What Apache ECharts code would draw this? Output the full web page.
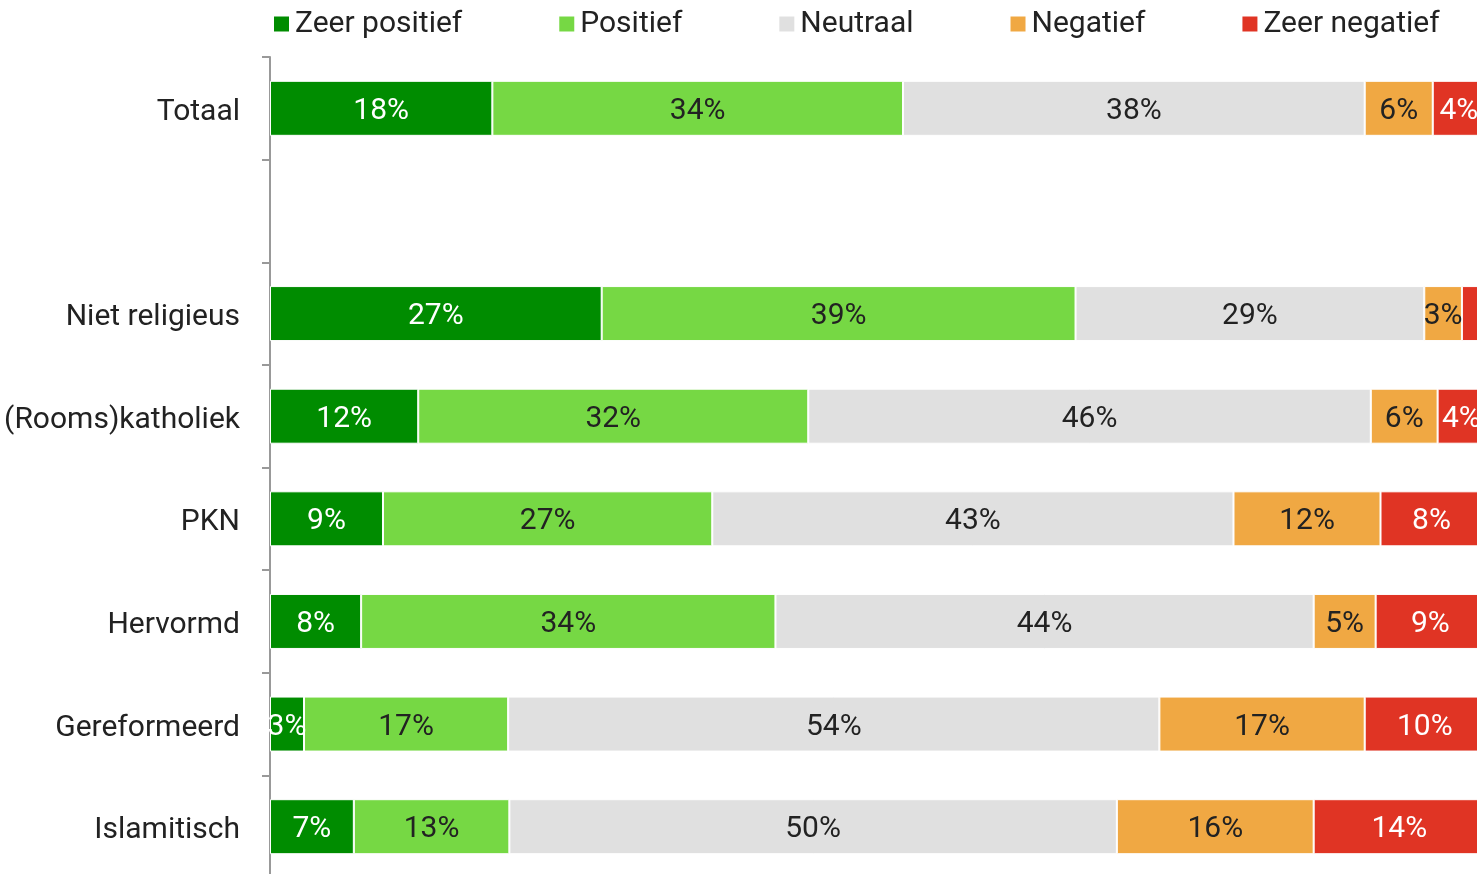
<!DOCTYPE html>
<html><head><meta charset="utf-8">
<script src="https://cdn.jsdelivr.net/npm/echarts@6/dist/echarts.min.js"></script>
<style>html,body{margin:0;padding:0;background:#fff}#c{width:1477px;height:874px}</style>
</head><body><div id="c"></div>
<script>
const categories = ['Totaal', '', 'Niet religieus', '(Rooms)katholiek', 'PKN', 'Hervormd', 'Gereformeerd', 'Islamitisch'];
const seriesNames = ['Zeer positief', 'Positief', 'Neutraal', 'Negatief', 'Zeer negatief'];
// values (labels show rounded %)
const zeerPositief = [18.3, null, 27.3, 12.2, 9.3, 7.5, 2.8, 6.9];
const positief     = [33.8, null, 39.0, 32.1, 27.1, 34.1, 16.8, 12.8];
const neutraal     = [38.0, null, 28.7, 46.3, 42.9, 44.3, 53.6, 50.0];
const negatief     = [5.6, null, 3.1, 5.5, 12.1, 5.1, 16.9, 16.2];
const zeerNegatief = [4.3, null, 1.9, 3.9, 8.4, 9.0, 9.9, 14.1];
const seriesData = [zeerPositief, positief, neutraal, negatief, zeerNegatief];
const colors = ['#008c00', '#76d844', '#e0e0e0', '#f0a843', '#e03424'];
const labelColors = ['#ffffff', '#222222', '#222222', '#222222', '#ffffff'];
const FONT = 'Roboto, "Noto Sans", sans-serif';

const chart = echarts.init(document.getElementById('c'));
chart.setOption({
  animation: false,
  color: colors,
  legend: {
    left: 272, top: 9, padding: 0,
    itemWidth: 17, itemHeight: 17, itemGap: 95,
    icon: 'rect',
    textStyle: { fontFamily: FONT, fontSize: 30, color: '#222' },
    data: seriesNames
  },
  grid: { left: 270, top: 57, width: 1215, height: 821, containLabel: false, outerBoundsMode: 'none' },
  xAxis: { type: 'value', min: 0, max: 100, show: false },
  yAxis: {
    type: 'category', data: categories, inverse: true,
    axisLine: { show: true, lineStyle: { color: '#999', width: 2 } },
    axisTick: { show: true, length: 8, lineStyle: { color: '#999', width: 2 } },
    axisLabel: {
      margin: 30,
      formatter: v => v ? '{a|' + v + '}' : '',
      rich: { a: { fontFamily: FONT, fontSize: 30, color: '#222', padding: [8, 0, 0, 0] } }
    }
  },
  series: seriesNames.map((n, i) => ({
    name: n, type: 'bar', stack: 'total', barWidth: 55,
    data: seriesData[i],
    itemStyle: { color: colors[i], borderColor: '#fff', borderWidth: 1 },
    label: {
      show: true, position: 'inside', offset: [0, 3],
      formatter: p => (p.value == null || p.value < 2.5) ? '' : Math.round(p.value) + '%',
      fontFamily: FONT, fontSize: 30, color: labelColors[i]
    }
  }))
});
</script></body></html>
